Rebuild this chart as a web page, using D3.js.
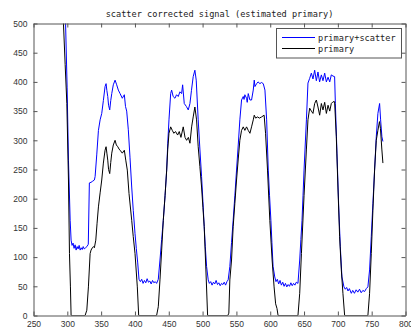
<!DOCTYPE html>
<html lang="en">
<head>
<meta charset="UTF-8" />
<title>scatter corrected signal</title>
<script src="https://cdn.jsdelivr.net/npm/d3@7"></script>
<style>
  body { margin: 0; background: #fff; }
  .tick text { font-family: "Liberation Sans", Arial, sans-serif; font-size: 8.5px; fill: #333; }
  .domain, .tick line { stroke: #555; }
  .mono { font-family: "DejaVu Sans Mono", monospace; font-size: 8.6px; fill: #222; }
</style>
</head>
<body>
<div id="chart"></div>
<script>
// series: primary + scatter (blue)
const blueX = [295, 297, 299.7, 301.7, 304.2, 305.6, 307, 308.5, 310, 311.5, 313, 314.5, 316, 317.5, 319, 320.5, 322, 323.5, 325, 327, 329, 331,
  332.6, 335, 337.5, 340, 341.1, 343.5, 346, 348.5, 350.9, 353.3, 355.8, 357.3, 358.5, 359.8, 361, 362.7, 364.2, 365.7, 368, 370.6, 373, 375.4,
  378, 381.3, 384.3, 386, 387.8, 390.2, 392.7, 395.2, 397.5, 400.1, 402, 404.1, 406, 408, 410, 412, 414, 416, 418, 420, 422, 424, 426, 428, 430,
  432, 434.5, 437, 439.5, 441.9, 444.5, 446.9, 448.5, 450.3, 452.8, 454.2, 456.5, 459.1, 461.5, 464, 466.5, 469, 470.5, 472.9, 476, 478.8, 481.3,
  483.5, 486.1, 488.6, 490.6, 493.5, 496, 498.5, 500.5, 502.4, 504, 505.9, 508.3, 510, 512, 514, 516, 518, 520, 522, 524, 526, 528, 530, 532,
  534, 536, 537.8, 540.3, 542.8, 545.2, 547.7, 550.2, 552.7, 555.1, 557.6, 560.1, 561.3, 562.5, 565, 566, 567.5, 570, 572.4, 574.9, 576.4, 577.4,
  579.9, 582, 584.8, 587, 589.7, 592.2, 594.7, 597.1, 599, 601, 602.5, 604.2, 606.7, 608.5, 610.5, 612.5, 614.5, 616.5, 618.5, 620.5, 622.5,
  624.5, 626.5, 628.5, 630.5, 632.5, 634.5, 636.5, 638.5, 641, 643.6, 645.3, 647, 648.5, 650, 653.5, 655.8, 658.3, 660.8, 663.2, 665.7, 668.2,
  670.6, 673, 675.6, 678, 680.5, 683, 685.5, 688, 690.3, 692.8, 695.2, 696.3, 698.7, 701.1, 703.6, 706, 709, 711, 713, 715, 717, 719.9, 722,
  724.5, 727, 729.5, 732, 734.5, 737, 739.5, 742, 744.4, 746.9, 749.4, 751.8, 754.3, 756.8, 759.2, 761.7, 763.2, 765.1, 766.6];
const blueY = [620, 520, 391, 266, 163, 129, 120, 124, 115, 121, 112, 118, 114, 120, 112, 116, 113, 118, 114, 116, 118, 122,
  227, 228, 230, 232, 238, 275, 317, 335, 346, 368, 392, 397, 385, 375, 360, 352, 368, 380, 395, 403, 395, 386,
  380, 372, 378, 358, 350, 318, 270, 220, 180, 140, 115, 90, 62, 58, 62, 55, 60, 56, 63, 57, 59, 54, 60, 56, 58,
  55, 62, 95, 130, 163, 205, 249, 295, 335, 380, 386, 375, 372, 378, 375, 383, 380, 395, 363, 358, 352, 363,
  385, 409, 420, 403, 335, 285, 238, 195, 152, 118, 84, 61, 55, 58, 52, 57, 54, 60, 53, 56, 51, 55, 53, 57,
  52, 58, 61, 84, 125, 163, 205, 249, 292, 335, 369, 375, 370, 378, 372, 365, 380, 369, 369, 386, 403, 392,
  397, 400, 397, 399, 397, 386, 335, 249, 205, 163, 125, 84, 66, 58, 62, 54, 60, 52, 57, 50, 55,
  49, 53, 50, 56, 51, 55, 52, 57, 55, 95, 130, 163, 205, 249, 335, 398, 406, 415, 405, 420, 402,
  417, 400, 412, 402, 415, 400, 408, 400, 412, 410, 409, 363, 278, 192, 118, 66, 49, 45, 48, 42, 46, 38, 43,
  38, 44, 40, 45, 39, 43, 41, 46, 49, 78, 135, 192, 249, 306, 346, 363, 335, 306, 298];

// series: primary (black)
const blackX = [293, 294.3, 296.8, 299.3, 301.7, 303.2, 304.6, 305.6, 326.3, 328.8, 331.2, 333.7, 335.1, 337, 338.6, 340, 342.1, 344, 346,
  348.5, 350.9, 353.3, 355.8, 357.3, 358.5, 359.8, 361, 362.7, 364.2, 365.7, 368, 370.6, 372.5, 374.6, 376.5, 378, 381.3, 384.3, 386.4,
  388.7, 391.2, 395.2, 397.5, 400.1, 403.5, 405.5, 432, 434.5, 437, 439.5, 441.9, 444.5, 446.9, 448.5, 450.3, 452.8, 455.2, 457.5, 460,
  463.1, 465.5, 468, 471.4, 474, 476.4, 479, 481.3, 483.8, 486.1, 488.6, 491.1, 493.5, 496, 498.5, 500.5, 502.4, 504.9, 507.4, 537.3,
  538.8, 540.3, 542.8, 545.2, 547.7, 550.2, 552.7, 555.1, 557.6, 560.1, 562.5, 565, 567.5, 570, 572.4, 574.9, 576.4, 578.4, 581.3, 584,
  587.2, 591, 593.1, 596, 599.4, 602.8, 605.7, 608, 610, 611.6, 641, 643.6, 646.1, 650, 653.5, 655.8, 658.3, 660.8, 663.2, 665.7, 668.2,
  670.6, 673.1, 675.6, 678, 680.5, 683, 685.5, 688, 690.3, 692.8, 695.2, 697.7, 700.1, 702.6, 705.1, 707.5, 710, 744.4, 746.9, 749.4,
  751.8, 754.3, 756.8, 759.2, 761.5, 763, 765, 766.6];
const blackY = [620, 500, 430, 363, 232, 106, 49, 0, 0, 9, 49, 106, 112, 116, 118, 116, 129, 158, 186,
  210, 232, 261, 283, 289, 278, 266, 250, 243, 262, 278, 292, 300, 292, 289, 285, 283, 278, 283, 266,
  249, 209, 163, 135, 106, 49, 0, 0, 15, 61, 112, 163, 205, 249, 285, 312, 323, 317, 312, 315,
  309, 315, 305, 323, 305, 300, 305, 295, 323, 340, 357, 335, 289, 255, 220, 185, 152, 78, 0, 0,
  4, 61, 95, 152, 192, 232, 268, 300, 317, 323, 317, 323, 317, 312, 323, 335, 343, 338, 340, 338,
  340, 343, 312, 249, 163, 95, 49, 20, 12, 0, 0, 38, 106, 205, 285, 335, 355, 350, 346, 363, 369,
  357, 343, 363, 352, 365, 346, 360, 350, 363, 366, 366, 306, 220, 135, 78, 38, 0, 0, 38, 106,
  180, 249, 300, 317, 332, 320, 285, 261];

const xTicks = [250, 300, 350, 400, 450, 500, 550, 600, 650, 700, 750, 800];
const yTicks = [0, 50, 100, 150, 200, 250, 300, 350, 400, 450, 500];
const seriesNames = ["primary+scatter", "primary"];
const seriesColors = ["#0000ff", "#000000"];
const titleText = "scatter corrected signal (estimated primary)";

const width = 411, height = 335;
const pLeft = 33.5, pRight = 405.5, pTop = 23.5, pBottom = 315.5;

const x = d3.scaleLinear([250, 800], [pLeft, pRight]);
const y = d3.scaleLinear([0, 500], [pBottom, pTop]);

const svg = d3.select("#chart").append("svg")
  .attr("width", width)
  .attr("height", height);

svg.append("defs").append("clipPath").attr("id", "clip")
  .append("rect")
  .attr("x", pLeft).attr("y", pTop)
  .attr("width", pRight - pLeft).attr("height", pBottom - pTop);

// lines
const line = d3.line().x(d => x(d[0])).y(d => y(d[1]));
const blue = blueX.map((v, i) => [v, blueY[i]]);
const black = blackX.map((v, i) => [v, blackY[i]]);

svg.append("g").attr("clip-path", "url(#clip)")
  .selectAll("path")
  .data([blue, black])
  .enter()
  .append("path")
  .attr("d", d => line(d))
  .attr("fill", "none")
  .attr("stroke", (d, i) => seriesColors[i])
  .attr("stroke-width", 1);

// axes, MATLAB style box with inward ticks
svg.append("g")
  .attr("transform", "translate(0," + pBottom + ")")
  .call(d3.axisBottom(x).tickValues(xTicks).tickSizeInner(-4).tickSizeOuter(0).tickPadding(5).tickFormat(d3.format("d")));
svg.append("g")
  .attr("transform", "translate(0," + pTop + ")")
  .call(d3.axisTop(x).tickValues(xTicks).tickSizeInner(-4).tickSizeOuter(0).tickFormat(""));
svg.append("g")
  .attr("transform", "translate(" + pLeft + ",0)")
  .call(d3.axisLeft(y).tickValues(yTicks).tickSizeInner(-4).tickSizeOuter(0).tickPadding(6).tickFormat(d3.format("d")));
svg.append("g")
  .attr("transform", "translate(" + pRight + ",0)")
  .call(d3.axisRight(y).tickValues(yTicks).tickSizeInner(-4).tickSizeOuter(0).tickFormat(""));

svg.selectAll(".tick text").attr("fill", "#333");

// title
svg.append("text")
  .attr("class", "mono")
  .attr("x", (pLeft + pRight) / 2)
  .attr("y", 17)
  .attr("text-anchor", "middle")
  .text(titleText);

// legend
const lg = svg.append("g");
lg.append("rect")
  .attr("x", 276.5).attr("y", 28.5)
  .attr("width", 125).attr("height", 29.5)
  .attr("fill", "#fff").attr("stroke", "#555");
seriesNames.forEach((name, i) => {
  const ly = 37.5 + i * 11;
  lg.append("line")
    .attr("x1", 282).attr("x2", 315)
    .attr("y1", ly).attr("y2", ly)
    .attr("stroke", seriesColors[i]);
  lg.append("text")
    .attr("class", "mono")
    .attr("x", 318).attr("y", ly + 3)
    .text(name);
});
</script>
</body>
</html>
